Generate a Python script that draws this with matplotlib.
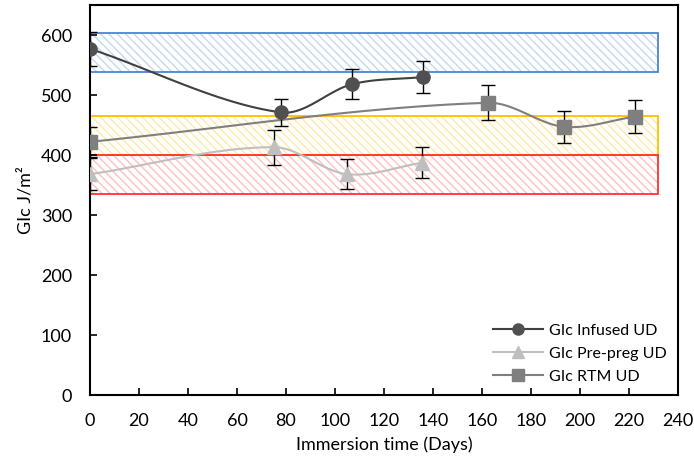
import numpy as np
import matplotlib.pyplot as plt
from matplotlib.patches import Rectangle

plt.rcParams['font.family'] = ['Lato', 'DejaVu Sans']
plt.rcParams['hatch.linewidth'] = 1.0

# data
infused_x = [0, 78, 107, 136]
infused_y = [577, 471, 518, 530]
infused_err = [28, 23, 25, 26]

preg_x = [0, 75, 105, 135.5]
preg_y = [368, 413, 368, 387]
preg_err = [27, 29, 25, 26]

rtm_x = [0, 162.5, 193.5, 222.5]
rtm_y = [422, 487, 447, 464]
rtm_err = [25, 29, 27, 28]

# bands (low, high, colour)
band_lo = [538, 400, 335]
band_hi = [604, 465, 400]
band_edge = ['#4a86d8', '#ffc000', '#ff3030']
band_hatch = ['#c5d8f2', '#ffe9a8', '#ffc0c0']
band_x1 = 232


def smooth(x, y, n=40):
    # bezier smoothing, tangents weighted by segment length
    x = np.asarray(x, float)
    y = np.asarray(y, float)
    k = len(x)
    tx, ty = np.zeros(k), np.zeros(k)
    for i in range(k):
        a = max(i - 1, 0)
        b = min(i + 1, k - 1)
        tx[i] = x[b] - x[a]
        ty[i] = y[b] - y[a]
    px, py = [], []
    for i in range(k - 1):
        d = x[i + 1] - x[i]
        s1 = d / (x[min(i + 1, k - 1)] - x[max(i - 1, 0)]) / 3
        s2 = d / (x[min(i + 2, k - 1)] - x[i]) / 3
        c1x, c1y = x[i] + tx[i] * s1, y[i] + ty[i] * s1
        c2x, c2y = x[i + 1] - tx[i + 1] * s2, y[i + 1] - ty[i + 1] * s2
        t = np.linspace(0, 1, n)
        bx = (1 - t)**3 * x[i] + 3 * (1 - t)**2 * t * c1x + 3 * (1 - t) * t**2 * c2x + t**3 * x[i + 1]
        by = (1 - t)**3 * y[i] + 3 * (1 - t)**2 * t * c1y + 3 * (1 - t) * t**2 * c2y + t**3 * y[i + 1]
        px.extend(bx)
        py.extend(by)
    return px, py


fig = plt.figure(figsize=(6.94, 4.66), dpi=100)
ax = fig.add_axes([90 / 694, 71 / 466, 588 / 694, 390 / 466])

for lo, hi, ec, hc in zip(band_lo, band_hi, band_edge, band_hatch):
    ax.add_patch(Rectangle((0, lo), band_x1, hi - lo, facecolor='none',
                           edgecolor=hc, hatch='\\\\\\\\', linewidth=0, zorder=1))
    ax.add_patch(Rectangle((0, lo), band_x1, hi - lo, facecolor='none',
                           edgecolor=ec, linewidth=1.3, zorder=1.5))

series = [
    (infused_x, infused_y, infused_err, '#404040', '#505050', 'o', 'GIc Infused UD'),
    (preg_x, preg_y, preg_err, '#bfbfbf', '#bfbfbf', '^', 'GIc Pre-preg UD'),
    (rtm_x, rtm_y, rtm_err, '#7f7f7f', '#7f7f7f', 's', 'GIc RTM UD'),
]
handles = []
for x, y, e, lc, mc, m, lab in series:
    sx, sy = smooth(x, y)
    ax.plot(sx, sy, color=lc, lw=1.5, zorder=3)
    ax.errorbar(x, y, yerr=e, fmt='none', ecolor='black', elinewidth=1,
                capsize=5, capthick=1, zorder=4)
    ax.plot(x, y, linestyle='none', marker=m, color=mc, markersize=9.5, zorder=5)
    h, = ax.plot([], [], color=lc, lw=1.5, marker=m, markerfacecolor=mc,
                 markeredgecolor=mc, markersize=8, label=lab)
    handles.append(h)

ax.set_xlim(0, 240)
ax.set_ylim(0, 650)
ax.set_xticks(np.arange(0, 241, 20))
ax.set_yticks(np.arange(0, 601, 100))
ax.tick_params(direction='in', length=5, width=1.2, labelsize=13, pad=13)
for s in ax.spines.values():
    s.set_linewidth(1.5)

ax.set_xlabel('Immersion time (Days)', fontsize=13, labelpad=5)
ax.set_ylabel('GIc J/m²', fontsize=13, labelpad=5)

ax.legend(handles=handles, loc='lower right', frameon=False, fontsize=11.5,
          handlelength=3.1, handletextpad=0.4, bbox_to_anchor=(1.0, 0.0),
          borderaxespad=0.3, labelspacing=0.55)

fig.savefig('out.png', dpi=100)
